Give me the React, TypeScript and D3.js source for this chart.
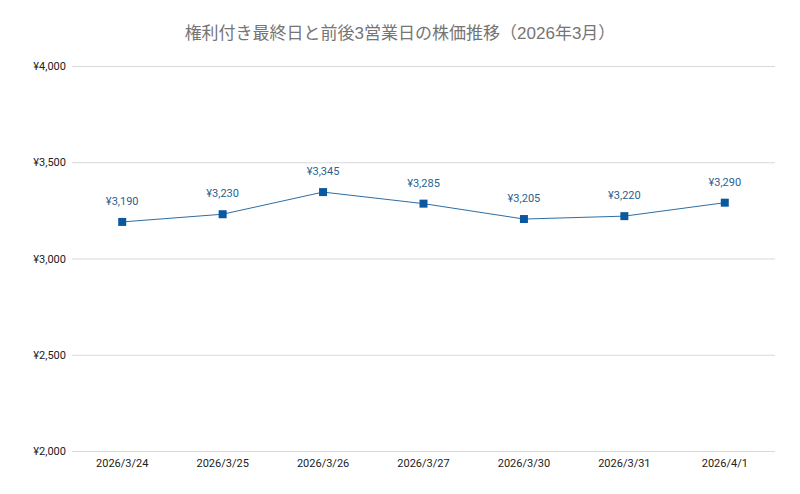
import React, { useRef, useEffect } from "react";
import { select, scaleBand, scaleLinear, line, axisLeft, axisBottom, format } from "d3";

const dates = ["2026/3/24", "2026/3/25", "2026/3/26", "2026/3/27", "2026/3/30", "2026/3/31", "2026/4/1"];
const prices = [3190, 3230, 3345, 3285, 3205, 3220, 3290];
const yTicks = [2000, 2500, 3000, 3500, 4000];
const title = "権利付き最終日と前後3営業日の株価推移（2026年3月）";

const W = 800;
const H = 494;
const margin = { top: 66, right: 25, bottom: 43, left: 72 };
const font = "Roboto, 'Noto Sans CJK JP', Arial, sans-serif";
const titleFont = "'Liberation Sans', 'Noto Sans CJK JP', sans-serif";

const yen = (v: number) => "¥" + format(",")(v);

export default function App() {
  const svgRef = useRef<SVGSVGElement>(null);

  useEffect(() => {
    const svg = select(svgRef.current!);
    svg.selectAll("*").remove();

    const x = scaleBand<string>()
      .domain(dates)
      .range([margin.left, W - margin.right]);
    const y = scaleLinear()
      .domain([2000, 4000])
      .range([H - margin.bottom, margin.top]);

    svg.append("rect").attr("width", W).attr("height", H).attr("fill", "#fff");

    // title
    svg
      .append("text")
      .attr("x", W / 2)
      .attr("y", 39)
      .attr("text-anchor", "middle")
      .style("font-family", titleFont)
      .style("font-size", "17px")
      .attr("fill", "#757575")
      .text(title);

    // gridlines + y labels
    const yAxis = svg
      .append("g")
      .attr("transform", `translate(${margin.left},0)`)
      .call(
        axisLeft(y)
          .tickValues(yTicks)
          .tickSize(-(W - margin.left - margin.right))
          .tickPadding(6)
          .tickFormat((d) => yen(d as number))
      );
    yAxis.select(".domain").remove();
    yAxis.selectAll(".tick line").attr("stroke", "#d9d9d9");
    yAxis
      .selectAll(".tick text")
      .attr("fill", "#222")
      .style("font-family", font)
      .style("font-size", "11px");

    // x labels
    const xAxis = svg
      .append("g")
      .attr("transform", `translate(0,${H - margin.bottom})`)
      .call(axisBottom(x).tickSize(0).tickPadding(8));
    xAxis.select(".domain").remove();
    xAxis
      .selectAll(".tick text")
      .attr("fill", "#222")
      .style("font-family", font)
      .style("font-size", "11px");

    const cx = (d: string) => (x(d) ?? 0) + x.bandwidth() / 2;
    const pts = dates.map((d, i) => ({ d, v: prices[i] }));

    svg
      .append("path")
      .datum(pts)
      .attr("fill", "none")
      .attr("stroke", "#2e6ea4")
      .attr("stroke-width", 1)
      .attr(
        "d",
        line<{ d: string; v: number }>()
          .x((p) => cx(p.d))
          .y((p) => y(p.v))
      );

    svg
      .selectAll(".marker")
      .data(pts)
      .join("rect")
      .attr("class", "marker")
      .attr("x", (p) => cx(p.d) - 4)
      .attr("y", (p) => y(p.v) - 4)
      .attr("width", 8)
      .attr("height", 8)
      .attr("fill", "#0b57a0");

    svg
      .selectAll(".dlabel")
      .data(pts)
      .join("text")
      .attr("class", "dlabel")
      .attr("x", (p) => cx(p.d))
      .attr("y", (p) => y(p.v) - 17)
      .attr("text-anchor", "middle")
      .style("font-family", font)
      .style("font-size", "11px")
      .attr("fill", "#2b5f8f")
      .text((p) => yen(p.v));
  }, []);

  return (
    <svg
      ref={svgRef}
      width={W}
      height={H}
      style={{ position: "absolute", left: 0, top: 0 }}
    />
  );
}
